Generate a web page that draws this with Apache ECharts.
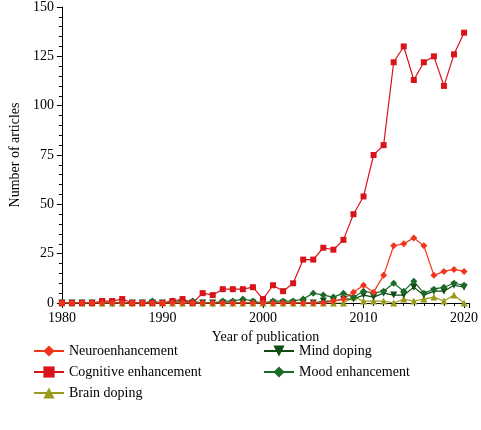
<!DOCTYPE html><html><head><meta charset="utf-8"><script src="https://cdn.jsdelivr.net/npm/echarts@6/dist/echarts.min.js"></script></head><body style="margin:0"><div id="c" style="width:481px;height:430px"></div><script>
const years=[];for(let y=1980;y<=2020;y++)years.push(y);
const cog=[0,0,0,0,1,1,2,0,0,0,0,1,2,0,5,4,7,7,7,8,2,9,6,10,22,22,28,27,32,45,54,75,80,122,130,113,122,125,110,126,137];
const neuro=[0,0,0,0,0,0,0,0,0,0,0,0,0,0,0,0,0,0,0,0,0,0,0,0,0,0,0,1,2,5.5,9,5.5,14,29,30,33,29,14,16,17,16];
const mood=[0,0,0,0,0,0,0,0,0,1,0,1,1,1,0,0,1,1,2,1,0,1,1,1,2,5,4,3,5,3,6,5,6,10,6,11,5,7,8,10,9];
const mind=[0,0,0,0,0,0,0,0,0,0,0,0,0,0,0,0,0,0,0,0,0,0,0,0,0,0,1,1,2,2,4,3,5,4,4,8,4,6,6,9,8];
const brain=[0,0,0,0,0,0,0,0,0,0,0,0,0,0,0,0,0,0,0,0,0,0,0,0,0,0,0,0,0,3,1,1,1,0,2,1,2,3,1,4,0];
const pair=a=>a.map((v,i)=>[years[i],v]);
const F='Liberation Serif';
const S=(name,data,color,symbol,rot)=>({name,type:'line',data:pair(data),symbol,symbolRotate:rot||0,symbolSize:symbol==='rect'?6:7,itemStyle:{color},lineStyle:{color,width:1.2}});
const ch=echarts.init(document.getElementById('c'));
ch.setOption({animation:false,textStyle:{fontFamily:F},
grid:{left:56,right:10,top:7,bottom:127},
xAxis:{type:'value',min:1980,max:2020.5,interval:10,axisLabel:{color:'#000',fontSize:14,fontFamily:F,formatter:v=>v%10===0&&v<=2020?v:''},axisLine:{lineStyle:{color:'#000'}},axisTick:{lineStyle:{color:'#000'}},minorTick:{show:true,splitNumber:10,lineStyle:{color:'#000'}},splitLine:{show:false},name:'Year of publication',nameLocation:'middle',nameGap:26,nameTextStyle:{fontSize:14,color:'#000',fontFamily:F}},
yAxis:{type:'value',min:0,max:150,interval:25,axisLabel:{color:'#000',fontSize:14,fontFamily:F},axisLine:{show:true,lineStyle:{color:'#000'}},axisTick:{show:true,lineStyle:{color:'#000'}},minorTick:{show:true,splitNumber:5,lineStyle:{color:'#000'}},splitLine:{show:false},name:'Number of articles',nameLocation:'middle',nameGap:36,nameTextStyle:{fontSize:14,color:'#000',fontFamily:F}},
legend:[{left:28,top:339,orient:'vertical',itemGap:7,itemWidth:30,textStyle:{fontSize:14,fontFamily:F,color:'#000'},data:['Neuroenhancement','Cognitive enhancement','Brain doping']},
{left:258,top:339,orient:'vertical',itemGap:7,itemWidth:30,textStyle:{fontSize:14,fontFamily:F,color:'#000'},data:['Mind doping','Mood enhancement']}],
series:[S('Brain doping',brain,'#9b9a1c','triangle'),S('Mind doping',mind,'#0f4a12','triangle',180),S('Mood enhancement',mood,'#1b6a2a','diamond'),S('Cognitive enhancement',cog,'#d8141b','rect'),S('Neuroenhancement',neuro,'#f2341c','diamond')]});
</script></body></html>
